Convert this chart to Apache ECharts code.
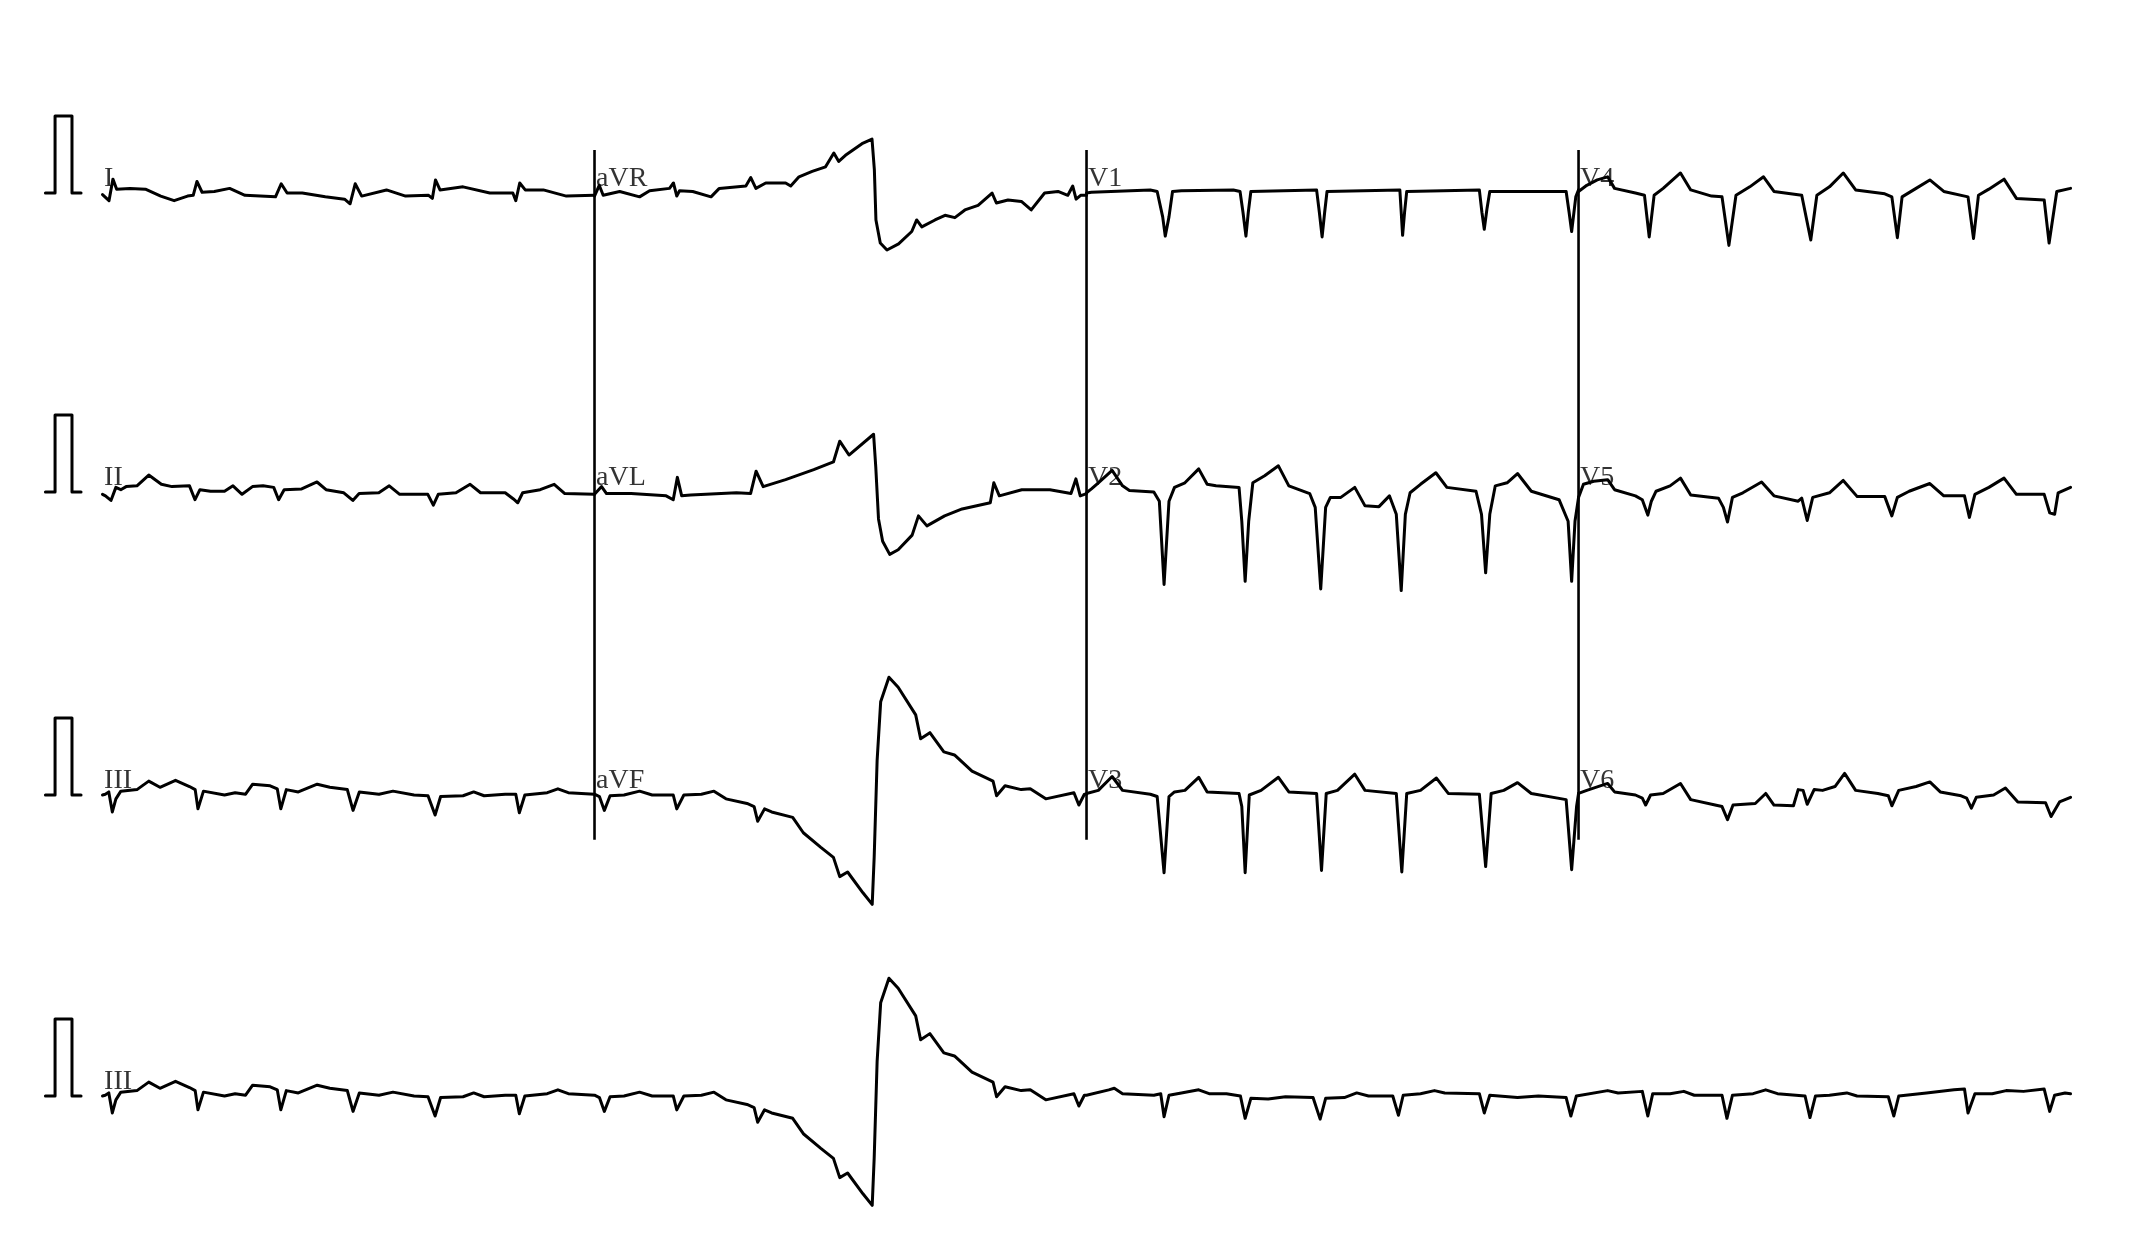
<!DOCTYPE html>
<html><head><meta charset="utf-8">
<script src="https://cdn.jsdelivr.net/npm/echarts@6/dist/echarts.min.js"></script>
<style>html,body{margin:0;padding:0;background:#fff;}#c{width:2143px;height:1252px;}</style>
</head><body><div id="c"></div>
<script>
// time in seconds, amplitude in mV (relative to each lead's baseline)
const leadI = [[0.000,-0.02],[0.033,-0.10],[0.053,0.18],[0.072,0.05],[0.140,0.06],[0.218,0.05],[0.296,-0.04],[0.364,-0.10],[0.432,-0.04],[0.461,-0.03],[0.480,0.15],[0.506,0.01],[0.568,0.02],[0.646,0.06],[0.724,-0.03],[0.879,-0.05],[0.908,0.12],[0.938,0.00],[1.015,0.00],[1.132,-0.05],[1.230,-0.08],[1.258,-0.14],[1.284,0.12],[1.317,-0.04],[1.443,0.04],[1.540,-0.04],[1.657,-0.03],[1.676,-0.07],[1.692,0.17],[1.715,0.04],[1.832,0.08],[1.968,0.00],[2.085,0.00],[2.100,-0.10],[2.120,0.13],[2.148,0.04],[2.240,0.04],[2.357,-0.04],[2.500,-0.03]];
const leadAVR = [[2.500,-0.04],[2.510,-0.06],[2.524,0.10],[2.544,-0.03],[2.628,0.02],[2.729,-0.05],[2.780,0.03],[2.881,0.06],[2.901,0.13],[2.918,-0.04],[2.932,0.03],[2.999,0.02],[3.092,-0.05],[3.134,0.06],[3.269,0.09],[3.294,0.20],[3.320,0.06],[3.370,0.13],[3.471,0.13],[3.497,0.09],[3.539,0.21],[3.606,0.28],[3.674,0.34],[3.716,0.52],[3.741,0.41],[3.775,0.49],[3.859,0.64],[3.910,0.70],[3.922,0.30],[3.930,-0.35],[3.952,-0.65],[3.986,-0.74],[4.045,-0.66],[4.112,-0.50],[4.137,-0.35],[4.163,-0.44],[4.230,-0.35],[4.281,-0.29],[4.331,-0.32],[4.382,-0.22],[4.449,-0.16],[4.520,0.00],[4.542,-0.13],[4.601,-0.09],[4.669,-0.11],[4.719,-0.22],[4.787,0.00],[4.855,0.02],[4.905,-0.03],[4.930,0.09],[4.947,-0.08],[4.970,-0.03],[5.000,-0.03]];
const leadV1 = [[5.000,0.00],[5.025,0.01],[5.324,0.04],[5.359,0.02],[5.387,-0.31],[5.400,-0.56],[5.419,-0.31],[5.437,0.02],[5.482,0.03],[5.746,0.04],[5.780,0.02],[5.795,-0.25],[5.810,-0.56],[5.822,-0.25],[5.835,0.02],[6.169,0.04],[6.183,-0.25],[6.197,-0.57],[6.210,-0.25],[6.222,0.02],[6.592,0.04],[6.599,-0.25],[6.606,-0.55],[6.616,-0.25],[6.627,0.02],[6.996,0.04],[7.009,-0.25],[7.021,-0.47],[7.035,-0.20],[7.049,0.02],[7.437,0.02],[7.452,-0.25],[7.465,-0.50],[7.486,-0.05],[7.500,0.04]];
const leadV4 = [[7.500,0.02],[7.542,0.10],[7.595,0.17],[7.648,0.21],[7.683,0.06],[7.789,0.00],[7.835,-0.03],[7.859,-0.57],[7.884,-0.03],[7.930,0.06],[8.018,0.26],[8.070,0.04],[8.176,-0.04],[8.229,-0.05],[8.264,-0.68],[8.300,-0.03],[8.370,0.08],[8.440,0.21],[8.493,0.02],[8.634,-0.03],[8.680,-0.61],[8.711,-0.03],[8.775,0.08],[8.845,0.26],[8.908,0.04],[9.056,-0.01],[9.092,-0.05],[9.120,-0.58],[9.144,-0.05],[9.215,0.06],[9.285,0.17],[9.356,0.02],[9.479,-0.05],[9.507,-0.59],[9.532,-0.03],[9.585,0.05],[9.662,0.18],[9.725,-0.07],[9.866,-0.09],[9.891,-0.65],[9.930,0.02],[10.000,0.06]];
const leadII = [[0.000,-0.03],[0.015,-0.05],[0.043,-0.11],[0.068,0.06],[0.093,0.03],[0.120,0.07],[0.175,0.08],[0.235,0.22],[0.299,0.10],[0.353,0.07],[0.442,0.08],[0.470,-0.10],[0.495,0.03],[0.549,0.01],[0.620,0.01],[0.663,0.08],[0.709,-0.03],[0.762,0.07],[0.816,0.08],[0.870,0.06],[0.895,-0.10],[0.923,0.03],[1.012,0.04],[1.090,0.13],[1.136,0.03],[1.226,-0.01],[1.272,-0.11],[1.304,-0.02],[1.404,-0.01],[1.457,0.08],[1.510,-0.03],[1.653,-0.03],[1.681,-0.17],[1.706,-0.03],[1.796,-0.01],[1.868,0.10],[1.921,-0.01],[2.046,-0.01],[2.088,-0.09],[2.110,-0.14],[2.135,-0.01],[2.224,0.03],[2.295,0.10],[2.349,-0.02],[2.500,-0.03]];
const leadAVL = [[2.500,-0.03],[2.536,0.07],[2.561,-0.02],[2.686,-0.02],[2.864,-0.05],[2.900,-0.10],[2.921,0.19],[2.943,-0.05],[2.989,-0.04],[3.221,-0.01],[3.293,-0.02],[3.321,0.27],[3.357,0.07],[3.471,0.16],[3.614,0.29],[3.714,0.39],[3.746,0.66],[3.793,0.48],[3.918,0.75],[3.929,0.33],[3.943,-0.35],[3.964,-0.64],[4.000,-0.81],[4.043,-0.75],[4.114,-0.56],[4.146,-0.31],[4.189,-0.44],[4.279,-0.31],[4.368,-0.22],[4.511,-0.14],[4.529,0.12],[4.557,-0.05],[4.671,0.03],[4.814,0.03],[4.921,-0.02],[4.946,0.17],[4.968,-0.05],[5.000,-0.02]];
const leadV2 = [[5.000,-0.01],[5.025,0.04],[5.060,0.12],[5.130,0.28],[5.183,0.08],[5.218,0.02],[5.342,0.00],[5.370,-0.12],[5.394,-1.20],[5.419,-0.12],[5.447,0.06],[5.500,0.12],[5.570,0.30],[5.613,0.10],[5.658,0.08],[5.775,0.06],[5.789,-0.38],[5.806,-1.16],[5.824,-0.38],[5.845,0.12],[5.905,0.21],[5.975,0.34],[6.028,0.08],[6.134,-0.02],[6.162,-0.20],[6.190,-1.26],[6.215,-0.20],[6.239,-0.07],[6.292,-0.07],[6.363,0.06],[6.415,-0.18],[6.486,-0.19],[6.539,-0.05],[6.574,-0.29],[6.599,-1.28],[6.620,-0.29],[6.644,-0.01],[6.697,0.10],[6.775,0.25],[6.831,0.06],[6.979,0.01],[7.007,-0.29],[7.028,-1.05],[7.049,-0.29],[7.077,0.08],[7.137,0.12],[7.190,0.24],[7.260,0.01],[7.401,-0.10],[7.447,-0.38],[7.465,-1.16],[7.482,-0.38],[7.500,-0.07]];
const leadV5 = [[7.500,-0.07],[7.525,0.10],[7.577,0.14],[7.648,0.16],[7.683,0.03],[7.789,-0.05],[7.824,-0.10],[7.852,-0.30],[7.870,-0.12],[7.894,0.01],[7.965,0.08],[8.018,0.18],[8.070,-0.04],[8.211,-0.08],[8.236,-0.20],[8.257,-0.39],[8.282,-0.07],[8.335,-0.01],[8.430,0.13],[8.493,-0.05],[8.616,-0.12],[8.634,-0.08],[8.662,-0.37],[8.690,-0.07],[8.775,-0.01],[8.845,0.15],[8.916,-0.06],[9.056,-0.06],[9.092,-0.31],[9.120,-0.07],[9.180,0.01],[9.285,0.11],[9.356,-0.05],[9.461,-0.05],[9.486,-0.33],[9.514,-0.03],[9.585,0.06],[9.662,0.18],[9.725,-0.03],[9.866,-0.03],[9.894,-0.27],[9.919,-0.29],[9.937,-0.01],[10.000,0.06]];
const leadIII = [[0.000,0.00],[0.014,0.01],[0.032,0.04],[0.050,-0.22],[0.068,-0.05],[0.093,0.05],[0.175,0.07],[0.235,0.18],[0.292,0.10],[0.371,0.19],[0.442,0.11],[0.471,0.07],[0.485,-0.18],[0.513,0.05],[0.620,0.00],[0.674,0.03],[0.727,0.01],[0.763,0.14],[0.852,0.12],[0.888,0.08],[0.906,-0.18],[0.934,0.07],[0.995,0.04],[1.091,0.14],[1.155,0.10],[1.244,0.07],[1.273,-0.20],[1.305,0.04],[1.405,0.01],[1.476,0.05],[1.583,0.00],[1.654,-0.01],[1.690,-0.26],[1.718,-0.02],[1.832,-0.01],[1.886,0.04],[1.939,-0.01],[2.046,0.01],[2.100,0.01],[2.118,-0.23],[2.146,0.00],[2.260,0.03],[2.314,0.08],[2.367,0.03],[2.500,0.01]];
const leadAVF = [[2.500,0.01],[2.525,-0.02],[2.550,-0.20],[2.579,-0.01],[2.650,0.00],[2.729,0.05],[2.793,0.00],[2.900,0.00],[2.918,-0.18],[2.954,0.00],[3.043,0.01],[3.107,0.05],[3.168,-0.05],[3.275,-0.11],[3.311,-0.15],[3.329,-0.34],[3.364,-0.18],[3.400,-0.22],[3.507,-0.29],[3.561,-0.49],[3.650,-0.68],[3.714,-0.81],[3.746,-1.06],[3.786,-1.00],[3.864,-1.27],[3.911,-1.42],[3.921,-0.81],[3.936,0.45],[3.954,1.21],[3.996,1.53],[4.043,1.40],[4.132,1.04],[4.157,0.73],[4.204,0.81],[4.275,0.56],[4.329,0.52],[4.418,0.31],[4.525,0.18],[4.543,-0.01],[4.586,0.12],[4.668,0.07],[4.714,0.08],[4.793,-0.05],[4.936,0.03],[4.961,-0.13],[4.989,0.01],[5.000,0.01]];
const leadV3 = [[5.000,0.02],[5.060,0.06],[5.130,0.24],[5.183,0.06],[5.324,0.01],[5.359,-0.02],[5.394,-1.01],[5.419,-0.02],[5.447,0.04],[5.500,0.06],[5.570,0.23],[5.613,0.04],[5.775,0.02],[5.789,-0.15],[5.806,-1.01],[5.827,0.00],[5.887,0.06],[5.975,0.23],[6.028,0.04],[6.169,0.02],[6.194,-0.98],[6.218,0.02],[6.275,0.06],[6.363,0.27],[6.415,0.06],[6.574,0.02],[6.602,-1.00],[6.627,0.02],[6.697,0.06],[6.778,0.22],[6.838,0.02],[6.996,0.01],[7.028,-0.93],[7.056,0.02],[7.120,0.06],[7.190,0.16],[7.260,0.02],[7.437,-0.06],[7.465,-0.97],[7.490,-0.15],[7.500,0.02]];
const leadV6 = [[7.500,0.02],[7.542,0.06],[7.648,0.15],[7.683,0.04],[7.789,0.00],[7.824,-0.04],[7.841,-0.13],[7.866,0.00],[7.930,0.02],[8.018,0.15],[8.070,-0.06],[8.194,-0.13],[8.229,-0.15],[8.257,-0.32],[8.285,-0.13],[8.398,-0.11],[8.451,0.02],[8.493,-0.13],[8.592,-0.14],[8.616,0.07],[8.641,0.06],[8.662,-0.12],[8.697,0.07],[8.740,0.06],[8.803,0.11],[8.852,0.28],[8.908,0.06],[9.021,0.02],[9.074,-0.01],[9.092,-0.14],[9.127,0.06],[9.215,0.11],[9.285,0.17],[9.338,0.04],[9.444,-0.01],[9.472,-0.04],[9.496,-0.17],[9.521,-0.03],[9.609,0.00],[9.669,0.09],[9.732,-0.09],[9.873,-0.10],[9.901,-0.28],[9.944,-0.09],[10.000,-0.03]];
// rhythm strip (lead III), second half; first half matches leadIII + leadAVF
const rhythmIIITail = [[5.000,0.04],[5.113,0.08],[5.141,0.10],[5.183,0.03],[5.342,0.01],[5.377,0.03],[5.394,-0.27],[5.419,0.01],[5.482,0.04],[5.570,0.08],[5.623,0.03],[5.711,0.03],[5.782,0.00],[5.806,-0.29],[5.835,-0.03],[5.923,-0.04],[6.011,-0.01],[6.151,-0.02],[6.187,-0.30],[6.215,-0.03],[6.310,-0.02],[6.373,0.04],[6.433,0.00],[6.556,0.00],[6.585,-0.25],[6.609,0.01],[6.697,0.03],[6.768,0.07],[6.820,0.04],[6.996,0.03],[7.021,-0.22],[7.049,0.01],[7.190,-0.02],[7.296,0.00],[7.437,-0.02],[7.461,-0.26],[7.489,0.00],[7.648,0.07],[7.701,0.04],[7.824,0.06],[7.852,-0.26],[7.877,0.03],[7.965,0.03],[8.035,0.06],[8.088,0.01],[8.229,0.01],[8.254,-0.29],[8.282,0.01],[8.387,0.03],[8.451,0.08],[8.511,0.03],[8.651,0.00],[8.676,-0.28],[8.704,0.00],[8.775,0.01],[8.863,0.04],[8.915,0.00],[9.074,-0.01],[9.102,-0.26],[9.127,0.00],[9.268,0.04],[9.408,0.08],[9.461,0.09],[9.479,-0.22],[9.514,0.03],[9.602,0.03],[9.673,0.07],[9.761,0.06],[9.866,0.09],[9.894,-0.20],[9.919,0.01],[9.972,0.04],[10.000,0.03]];
const calPulse = [[-0.290,0],[-0.241,0],[-0.241,1],[-0.155,1],[-0.155,0],[-0.109,0]];
const separatorTimes = [2.5, 5.0, 7.5];
const labelRow1 = ['I','aVR','V1','V4'];
const labelRow2 = ['II','aVL','V2','V5'];
const labelRow3 = ['III','aVF','V3','V6'];
const labelRow4 = ['III'];
const segmentStarts = [0, 2.5, 5.0, 7.5];

// layout (not data): row baselines in mV offset on the shared y axis
const rowOffsets = [0, -3.883, -7.818, -11.727];
const rows = [
  {labels: labelRow1, leads: [leadI, leadAVR, leadV1, leadV4]},
  {labels: labelRow2, leads: [leadII, leadAVL, leadV2, leadV5]},
  {labels: labelRow3, leads: [leadIII, leadAVF, leadV3, leadV6]},
  {labels: labelRow4, leads: [leadIII.concat(leadAVF.slice(1), rhythmIIITail.slice(1))]}
];

const lineStyle = {color:'#000', width:3, join:'round', cap:'round'};
const shift = (arr, off) => arr.map(p => [p[0], p[1] + off]);
const series = [];
const labelData = [];
rows.forEach((r, ri) => {
  const off = rowOffsets[ri];
  series.push({type:'line', data: shift(calPulse, off), symbol:'none', lineStyle, silent:true});
  r.leads.forEach((ld) => {
    series.push({type:'line', data: shift(ld, off), symbol:'none', lineStyle, silent:true});
  });
  r.labels.forEach((nm, k) => {
    labelData.push({name: nm, value: [segmentStarts[k] + 0.008, off + 0.0]});
  });
});
separatorTimes.forEach(t => {
  series.push({type:'line', data: [[t, rowOffsets[0] + 0.56], [t, rowOffsets[2] - 0.58]], symbol:'none',
    lineStyle:{color:'#000', width:2.6}, silent:true});
});
series.push({
  type:'scatter', data: labelData, symbolSize: 0, silent:true,
  itemStyle:{color:'rgba(0,0,0,0)'},
  label:{show:true, formatter:'{b}', position:[0,0], align:'left', verticalAlign:'bottom',
    color:'#000', fontFamily:'Liberation Serif', fontSize:28}
});

const chart = echarts.init(document.getElementById('c'), null, {renderer:'canvas'});
chart.setOption({
  backgroundColor:'#fff',
  animation:false,
  grid:{left:0, right:0, top:0, bottom:0, containLabel:false},
  xAxis:{type:'value', min:-0.5208, max:10.3681, show:false, splitLine:{show:false}},
  yAxis:{type:'value', min:-13.753, max:2.5065, show:false, splitLine:{show:false}},
  series
});
</script></body></html>
